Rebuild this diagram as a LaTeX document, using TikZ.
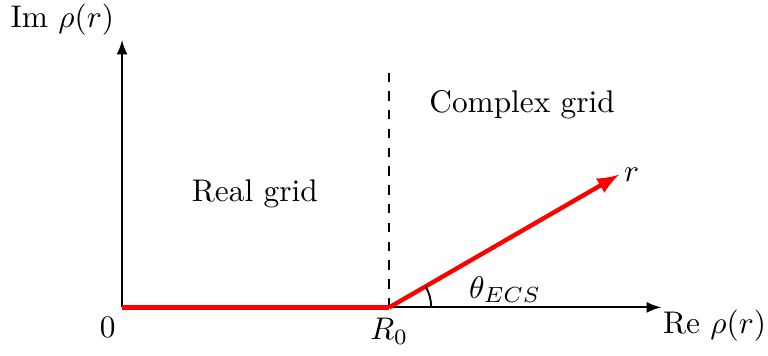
\documentclass[tikz,border=0pt]{standalone}
\usepackage{amsmath}
\usetikzlibrary{calc}
\usetikzlibrary{arrows}
\usetikzlibrary{positioning}
\tikzset{axis/.style = {-latex, semithick},
         rgrid/.style = {red, line width=1.4pt}}

\begin{document}
\begin{tikzpicture}
  \useasboundingbox (-1.37,-0.54) rectangle (7.25,3.45);
  \coordinate (O)  at (0,0);
  \coordinate (X)  at (6.05,0);
  \coordinate (Y)  at (0,3);
  \coordinate (R0) at (3,0);
  \coordinate (T)  at (3,2.66);
  \coordinate (E)  at ($(R0)+(30:2.98)$);
  % axes
  \draw[axis] (O) -- (X);
  \draw[axis] (O) -- (Y);
  \draw[dashed, semithick] (R0) -- (T);
  % real and complex part of the grid
  \draw[rgrid] (O) -- (R0);
  \draw[rgrid, -latex] (R0) -- (E);
  \draw[semithick] (R0) ++(0.47,0) arc (0:30:0.47);
  \node (im)   at (-0.67,3.23) {Im $\rho(r)$};
  \node (re)   at (6.65,-0.2)  {Re $\rho(r)$};
  \node (zero) at (-0.16,-0.22) {$0$};
  \node (r0)   [below=0pt of R0] {$R_0$};
  \node (r)    [right=-2pt of E] {$r$};
  \node (th)   at (4.3,0.2) {$\theta_{ECS}$};
  \node (cg)   at (4.49,2.28) {Complex grid};
  \node (rg)   at (1.49,1.27) {Real grid};
\end{tikzpicture}
\end{document}
